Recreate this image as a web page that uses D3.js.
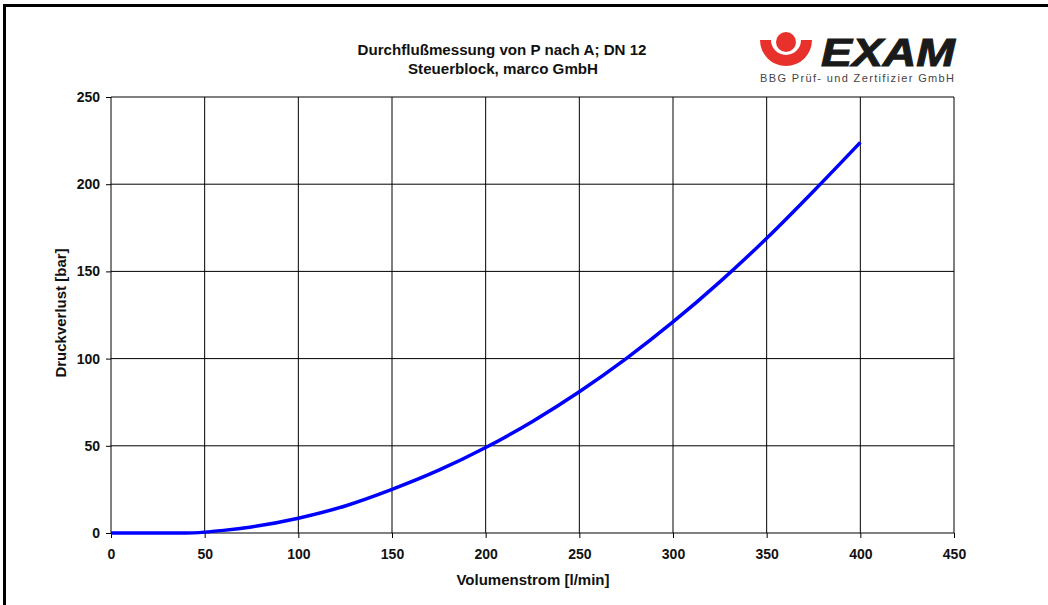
<!DOCTYPE html>
<html>
<head>
<meta charset="utf-8">
<script src="https://cdn.jsdelivr.net/npm/d3@7"></script>
<style>
  body { margin: 0; background: #fff; }
  text { font-family: Arial, "Liberation Sans", sans-serif; fill: #111; }
  .tick text { font-size: 14px; font-weight: bold; }
</style>
</head>
<body>
<div id="chart"></div>
<script>
// Messwerte: Volumenstrom [l/min] / Druckverlust [bar]
var flow = [0, 10, 40, 50, 60, 75, 100, 125, 150, 175, 200, 225, 250, 275, 300, 325, 350, 375, 400];
var loss = [0, 0, 0, 0.5, 1.5, 3.5, 8.5, 15.5, 25, 36, 49, 64, 81, 100, 121, 144, 169, 196, 224];
var xTicks = [0, 50, 100, 150, 200, 250, 300, 350, 400, 450];
var yTicks = [0, 50, 100, 150, 200, 250];

var width = 1048, height = 605;
var svg = d3.select("#chart").append("svg")
    .attr("width", width)
    .attr("height", height);

// Rahmen (nur links/oben sichtbar)
svg.append("rect")
    .attr("x", 4.5).attr("y", 5.5)
    .attr("width", 1100).attr("height", 700)
    .attr("fill", "none").attr("stroke", "#000").attr("stroke-width", 3);

var xScale = d3.scaleLinear().domain([0, 450]).range([111, 954]);
var yScale = d3.scaleLinear().domain([0, 250]).range([533, 97]);

// Gitter
svg.append("g").selectAll("line").data(xTicks).enter().append("line")
    .attr("x1", function(d) { return xScale(d); })
    .attr("x2", function(d) { return xScale(d); })
    .attr("y1", yScale(0)).attr("y2", yScale(250))
    .attr("stroke", "#000").attr("stroke-width", 1);
svg.append("g").selectAll("line").data(yTicks).enter().append("line")
    .attr("x1", xScale(0)).attr("x2", xScale(450))
    .attr("y1", function(d) { return yScale(d); })
    .attr("y2", function(d) { return yScale(d); })
    .attr("stroke", "#000").attr("stroke-width", 1);

// Achsen
var xAxis = d3.axisBottom(xScale).tickValues(xTicks).tickSize(5).tickPadding(11);
var yAxis = d3.axisLeft(yScale).tickValues(yTicks).tickSize(5).tickPadding(6);
svg.append("g").attr("transform", "translate(0," + yScale(0) + ")").call(xAxis)
    .call(function(g) { g.select(".domain").remove(); });
svg.append("g").attr("transform", "translate(" + xScale(0) + ",0)").call(yAxis)
    .call(function(g) { g.select(".domain").remove(); });
svg.selectAll(".tick line").attr("stroke", "#000");

// Kurve
var line = d3.line()
    .x(function(d, i) { return xScale(flow[i]); })
    .y(function(d) { return yScale(d); })
    .curve(d3.curveMonotoneX);
svg.append("path")
    .datum(loss)
    .attr("d", line)
    .attr("fill", "none")
    .attr("stroke", "#0000ff")
    .attr("stroke-width", 3.5);

// Titel
svg.append("text").attr("x", 502).attr("y", 55).attr("text-anchor", "middle")
    .attr("textLength", 289).attr("lengthAdjust", "spacingAndGlyphs")
    .style("font-size", "14.5px").style("font-weight", "bold")
    .text("Durchflußmessung von P nach A; DN 12");
svg.append("text").attr("x", 503).attr("y", 74).attr("text-anchor", "middle")
    .attr("textLength", 190).attr("lengthAdjust", "spacingAndGlyphs")
    .style("font-size", "14.5px").style("font-weight", "bold")
    .text("Steuerblock, marco GmbH");

// Achsentitel
svg.append("text").attr("x", 533).attr("y", 585).attr("text-anchor", "middle")
    .style("font-size", "15px").style("font-weight", "bold")
    .text("Volumenstrom [l/min]");
svg.append("text").attr("transform", "translate(66,313) rotate(-90)")
    .attr("text-anchor", "middle")
    .style("font-size", "15px").style("font-weight", "bold")
    .text("Druckverlust [bar]");

// Logo
var logo = svg.append("g");
logo.append("path")
    .attr("d", "M760,40 L812,40 A26,26 0 0,1 760,40 Z")
    .attr("fill", "#e8312b");
logo.append("circle").attr("cx", 786).attr("cy", 40).attr("r", 15).attr("fill", "#fff");
logo.append("circle").attr("cx", 786).attr("cy", 42).attr("r", 10).attr("fill", "#e8312b");
logo.append("text").attr("x", 821).attr("y", 66)
    .attr("textLength", 134).attr("lengthAdjust", "spacingAndGlyphs")
    .style("font-size", "38px").style("font-weight", "bold").style("font-style", "italic")
    .style("fill", "#1a1a1a").style("stroke", "#1a1a1a").style("stroke-width", 1)
    .text("EXAM");
logo.append("text").attr("x", 760).attr("y", 82)
    .attr("textLength", 194).attr("lengthAdjust", "spacing")
    .style("font-size", "11px").style("fill", "#444")
    .text("BBG Prüf- und Zertifizier GmbH");
</script>
</body>
</html>
